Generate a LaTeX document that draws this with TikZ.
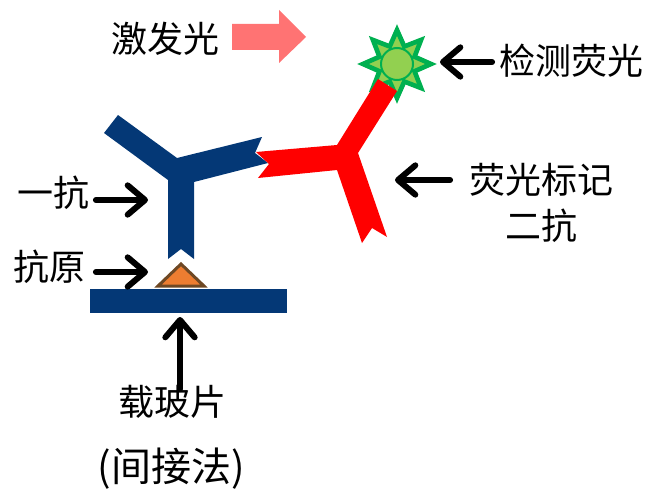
\documentclass[tikz,border=0pt]{standalone}
\usepackage{fontspec}
\setmainfont{Noto Sans CJK SC}
\usetikzlibrary{arrows.meta}
\definecolor{abblue}{RGB}{4,56,118}
\definecolor{abred}{RGB}{255,0,0}
\definecolor{excite}{RGB}{255,115,115}
\definecolor{antigen}{RGB}{237,125,49}
\definecolor{antigenedge}{RGB}{110,72,36}
\definecolor{starfill}{RGB}{146,208,80}
\definecolor{staredge}{RGB}{0,176,80}
\begin{document}
\begin{tikzpicture}[x=0.75pt,y=-0.75pt,
  label/.style={font=\fontsize{27}{35}\selectfont, inner sep=0pt, align=center},
  pointer/.style={line width=4.5pt, line cap=round,
    -{Straight Barb[length=13pt,width=22pt,round]}},
  ]
\useasboundingbox (0,0) rectangle (652,492);

% excitation light
\fill[excite] (232,24) -- (279,24) -- (279,10) -- (306,37) -- (279,63)
  -- (279,50) -- (232,50) -- cycle;

% fluorescent marker: eight-pointed star with a disc
\begin{scope}[shift={(397,64)}]
  \filldraw[fill=starfill, draw=staredge, line width=3.5pt, line join=miter]
    (90:34) \foreach \i in {1,...,15} { -- ({90+\i*22.5}:{ifthenelse(isodd(\i),19,34)}) } -- cycle;
  \filldraw[fill=starfill, draw=staredge, line width=1.5pt] (0,0) circle (16);
\end{scope}

% glass slide
\fill[abblue] (90,289) rectangle (287,313);

% antigen
\filldraw[fill=antigen, draw=antigenedge, line width=2.25pt, line join=miter]
  (181,264) -- (204,286) -- (158,286) -- cycle;

% primary antibody
\fill[abblue] (118,115) -- (177,158) -- (262,137) -- (255,153) -- (268,163)
  -- (194,182) -- (194,259) -- (181,249) -- (168,259) -- (168,180)
  -- (104,133) -- cycle;

% labelled secondary antibody
\fill[abred] (256,152) -- (337,145) -- (378,79) -- (397,91) -- (358,153)
  -- (387,237) -- (372,228) -- (362,243) -- (337,170) -- (258,178)
  -- (269,164) -- cycle;

% labels
\node[label] (exc) at (165,39) {激发光};
\node[label] (det) at (571,61) {检测荧光};
\node[label] (sec) at (541,203) {荧光标记\\二抗};
\node[label] (pri) at (53,193) {一抗};
\node[label] (ag) at (49,267) {抗原};
\node[label] (sld) at (172,402) {载玻片};
\node[label, font=\fontsize{30}{36}\selectfont] (meth) at (171,469) {(间接法)};

% pointers
\coordinate (detTip) at (440,62);
\coordinate (secTip) at (395,180);
\coordinate (priTip) at (148,200);
\coordinate (agTip) at (148,272);
\coordinate (sldTip) at (180,317);
\draw[pointer] ([xshift=-5pt]detTip -| det.west) -- (detTip);
\draw[pointer] ([xshift=-14pt]secTip -| sec.west) -- (secTip);
\draw[pointer] ([xshift=5pt]priTip -| pri.east) -- (priTip);
\draw[pointer] ([xshift=8pt]agTip -| ag.east) -- (agTip);
\draw[pointer] ([yshift=-3pt]sldTip |- sld.north) -- (sldTip);
\end{tikzpicture}
\end{document}
